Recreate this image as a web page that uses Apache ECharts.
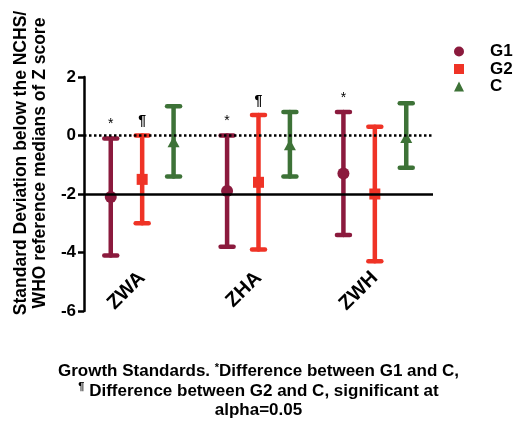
<!DOCTYPE html>
<html>
<head>
    <meta charset="UTF-8">
    <title>Z score chart</title>
    <script src="https://cdn.jsdelivr.net/npm/echarts@6/dist/echarts.min.js"></script>
    <style>
        body{ margin:0; background:#fff; }
        #main{ width:517px; height:429px; }
    </style>
</head>
<body>
<div id="main"></div>
<script>
    // categories on the x axis
    var categories = ['ZWA', 'ZHA', 'ZWH'];
    var groups = ['G1', 'G2', 'C'];

    // mean, lower, upper for each group
    var g1Mean = [-2.1, -1.9, -1.3];
    var g1Low = [-4.1, -3.8, -3.4];
    var g1High = [-0.1, 0, 0.8];

    var g2Mean = [-1.5, -1.6, -2.0];
    var g2Low = [-3.0, -3.9, -4.3];
    var g2High = [0, 0.7, 0.3];

    var cMean = [-0.25, -0.35, -0.1];
    var cLow = [-1.4, -1.4, -1.1];
    var cHigh = [1.0, 0.8, 1.1];

    // significance marks above the bars
    var g1Mark = ['*', '*', '*'];
    var g2Mark = ['¶', '¶', ''];
    var cMark = ['', '', ''];

    var yTicks = [-6, -4, -2, 0, 2];

    var colors = ['#8b1a3d', '#ef3326', '#3d7237'];
    var symbols = ['circle', 'rect', 'triangle'];
    var offsets = [-0.27, 0, 0.27];
    var font = '"Liberation Sans", Arial, sans-serif';

    function buildData(mean, low, high, mark) {
        return categories.map(function (c, i) {
            return [i, mean[i], low[i], high[i], mark[i]];
        });
    }

    function makeRender(idx) {
        return function (params, api) {
            var band = api.size([1, 0])[0];
            var off = offsets[idx] * band;
            var mid = api.coord([api.value(0), api.value(1)]);
            var lo = api.coord([api.value(0), api.value(2)]);
            var hi = api.coord([api.value(0), api.value(3)]);
            var x = mid[0] + off;
            var cap = 6.5;
            var st = { stroke: colors[idx], lineWidth: 4.5, lineCap: 'round' };
            var kids = [
                { type: 'line', shape: { x1: x, y1: lo[1], x2: x, y2: hi[1] }, style: st },
                { type: 'line', shape: { x1: x - cap, y1: lo[1], x2: x + cap, y2: lo[1] }, style: st },
                { type: 'line', shape: { x1: x - cap, y1: hi[1], x2: x + cap, y2: hi[1] }, style: st }
            ];
            if (idx === 0) {
                kids.push({ type: 'circle', shape: { cx: x, cy: mid[1], r: 6 }, style: { fill: colors[idx] } });
            } else if (idx === 1) {
                kids.push({ type: 'rect', shape: { x: x - 5.5, y: mid[1] - 5.5, width: 11, height: 11 }, style: { fill: colors[idx] } });
            } else {
                kids.push({ type: 'polygon', shape: { points: [[x, mid[1] - 6.5], [x - 6, mid[1] + 4.5], [x + 6, mid[1] + 4.5]] }, style: { fill: colors[idx] } });
            }
            var mk = api.value(4);
            if (mk) {
                kids.push({
                    type: 'text',
                    style: {
                        text: mk, x: x, y: hi[1] - 7,
                        align: 'center', verticalAlign: 'bottom',
                        font: (mk === '¶' ? 'bold 14px ' : '14px ') + font,
                        fill: '#000'
                    }
                });
            }
            return { type: 'group', children: kids };
        };
    }

    var dataSets = [
        buildData(g1Mean, g1Low, g1High, g1Mark),
        buildData(g2Mean, g2Low, g2High, g2Mark),
        buildData(cMean, cLow, cHigh, cMark)
    ];

    var series = groups.map(function (g, i) {
        return {
            name: g,
            type: 'custom',
            renderItem: makeRender(i),
            itemStyle: { color: colors[i] },
            encode: { x: 0, y: [1, 2, 3] },
            data: dataSets[i],
            z: 3
        };
    });

    // reference lines at 0 (dotted) and -2 (solid)
    series.push({
        type: 'line',
        data: [],
        silent: true,
        markLine: {
            silent: true,
            symbol: 'none',
            label: { show: false },
            data: [
                { yAxis: 0, lineStyle: { type: 'dotted', width: 2.5, color: '#000' } },
                { yAxis: -2, lineStyle: { type: 'solid', width: 2.5, color: '#000' } }
            ]
        },
        z: 1
    });

    var chart = echarts.init(document.getElementById('main'));
    chart.setOption({
        animation: false,
        textStyle: { fontFamily: font },
        grid: { left: 84, right: 84, top: 77, bottom: 118 },
        legend: {
            orient: 'vertical',
            left: 454,
            top: 43,
            padding: 0,
            itemWidth: 10,
            itemHeight: 10,
            itemGap: 0.5,
            textStyle: { fontSize: 17, fontWeight: 'bold', color: '#000', lineHeight: 14, padding: [0, 0, 0, 21] },
            data: groups.map(function (g, i) {
                return { name: g, icon: symbols[i], itemStyle: { color: colors[i] } };
            })
        },
        xAxis: {
            type: 'category',
            data: categories,
            offset: -44,
            axisLine: { show: false },
            axisTick: { show: false },
            axisLabel: { rotate: 45, fontSize: 20, fontWeight: 'bold', color: '#000', margin: 8 }
        },
        yAxis: {
            type: 'value',
            min: yTicks[0],
            max: yTicks[yTicks.length - 1],
            interval: 2,
            splitLine: { show: false },
            axisLine: { show: true, lineStyle: { color: '#000', width: 2.5 } },
            axisTick: { show: true, length: 6, lineStyle: { color: '#000', width: 2.5 } },
            axisLabel: { fontSize: 17, fontWeight: 'bold', color: '#000', margin: 8 }
        },
        title: {
            text: 'Growth Standards. {sup|*}Difference between G1 and C,\n{sup|¶} Difference between G2 and C, significant at\nalpha=0.05',
            left: 'center',
            top: 357,
            textStyle: {
                fontSize: 17,
                fontWeight: 'bold',
                color: '#000',
                lineHeight: 19.5,
                align: 'center',
                rich: {
                    sup: { fontSize: 11, fontWeight: 'bold', color: '#000', verticalAlign: 'top', lineHeight: 19.5 }
                }
            }
        },
        graphic: [
            {
                type: 'text',
                x: 31,
                y: 163,
                rotation: Math.PI / 2,
                style: {
                    text: 'Standard Deviation below the NCHS/\nWHO reference medians of Z score',
                    font: 'bold 17.5px ' + font,
                    fill: '#000',
                    align: 'center',
                    verticalAlign: 'middle',
                    lineHeight: 19
                }
            }
        ],
        series: series
    });
</script>
</body>
</html>
